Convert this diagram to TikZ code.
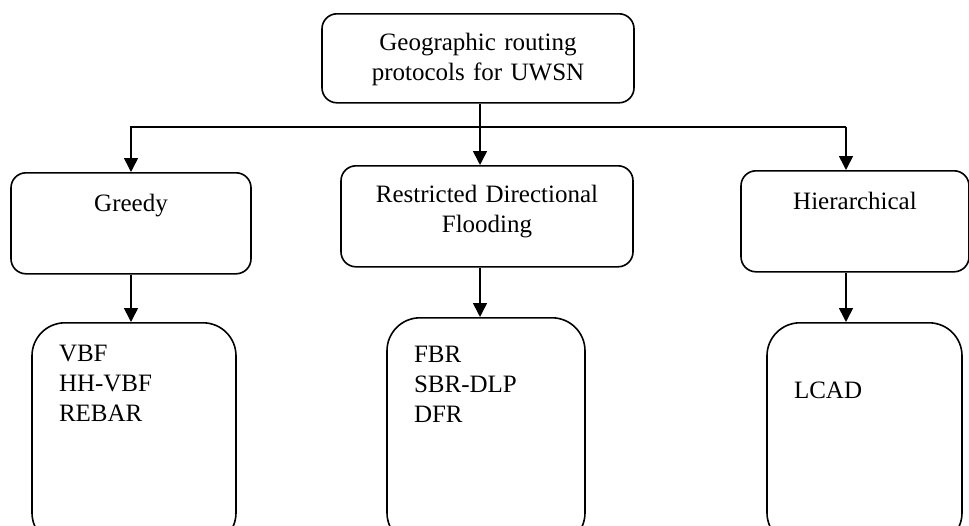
\documentclass[tikz,border=0pt]{standalone}
\usepackage{fontspec}
\setmainfont{Liberation Serif}
\usetikzlibrary{arrows.meta}
\tikzstyle{catbox} = [rectangle, rounded corners=15pt, draw=black, fill=white, inner sep=0pt, align=center]
\tikzstyle{listbox} = [rectangle, rounded corners=33pt, draw=black, fill=white, inner xsep=27pt, inner ysep=0pt, align=left, anchor=north]
\tikzstyle{arrow} = [->]

\begin{document}
\begin{tikzpicture}[x=1pt, y=-1pt, line width=1.6pt, >={Triangle[length=14pt,width=14pt]},
    font=\fontsize{25}{30}\selectfont]

  \useasboundingbox (0,0) rectangle (969,525);

  % We start by placing the blocks
  \node (geo) [catbox, text width=312pt, text height=37pt, text depth=52pt, anchor=north] at (478,13) {Geographic routing\\protocols for UWSN};
  \node (greedy) [catbox, text width=240pt, text height=39pt, text depth=62pt, anchor=north] at (131,172) {Greedy};
  \node (flood) [catbox, text width=292pt, text height=37pt, text depth=64pt, anchor=north] at (487,165) {Restricted Directional\\Flooding};
  \node (hier) [catbox, text width=228pt, text height=39pt, text depth=62pt, anchor=north] at (855,170) {Hierarchical};

  \node (greedylist) [listbox, text width=150pt, text height=39pt, text depth=184pt] at (134,322) {VBF\\HH-VBF\\REBAR};
  \node (floodlist) [listbox, text width=144pt, text height=44.5pt, text depth=183.5pt] at (486,317) {FBR\\SBR-DLP\\DFR};
  \node (hierlist) [listbox, text width=141pt, text height=76pt, text depth=147pt] at (864.5,322) {LCAD};

  % draw connections between nodes
  \coordinate (split) at (480,127);
  \coordinate (hiertop) at ([xshift=-9pt]hier.north);
  \draw [arrow] (geo.south -| split) -- (flood.north -| split);
  \draw [arrow] (split -| hiertop) -- (split -| greedy.north) -- (greedy.north);
  \draw [arrow] (split -| hiertop) -- (hiertop);
  \draw [arrow] (greedy.south) -- (greedylist.north -| greedy.south);
  \draw [arrow] (flood.south -| split) -- (floodlist.north -| split);
  \draw [arrow] (hier.south -| hiertop) -- (hierlist.north -| hiertop);

\end{tikzpicture}
\end{document}
